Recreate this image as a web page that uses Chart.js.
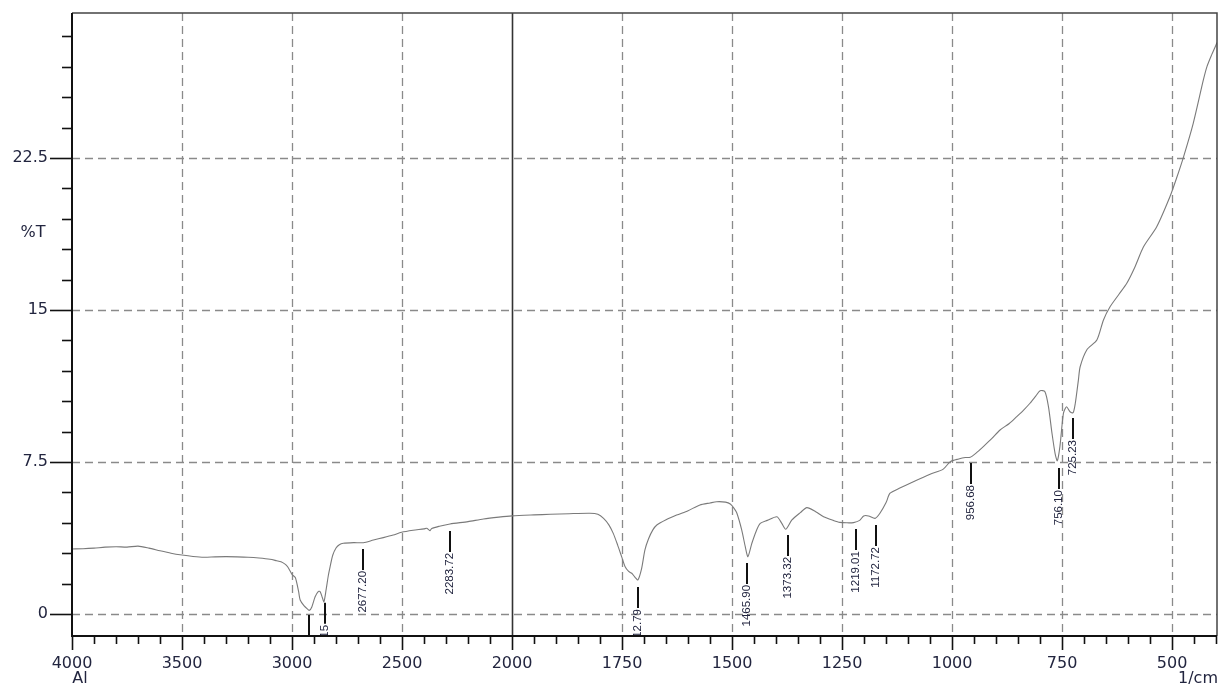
<!DOCTYPE html>
<html>
<head>
<meta charset="utf-8">
<script src="https://cdn.jsdelivr.net/npm/chart.js@4.4.1/dist/chart.umd.min.js"></script>
<style>
  body { margin: 0; background: #fff; }
  #wrap { position: relative; width: 1220px; height: 688px; }
</style>
</head>
<body>
<div id="wrap"><canvas id="ir-chart" width="1220" height="688"></canvas></div>
<script>
// --- Spectrum data (wavenumber in 1/cm, transmittance in %T) ---
const wavenumbers = [
  4000, 3950, 3900, 3850, 3800, 3750, 3700, 3650, 3600, 3550, 3500, 3450, 3400, 3350, 3300, 3250,
  3200, 3150, 3100, 3070, 3050, 3030, 3020, 3010, 3000, 2985, 2970, 2963, 2945, 2930, 2921, 2910,
  2895, 2880, 2872, 2862, 2855, 2845, 2835, 2827, 2815, 2800, 2785, 2767, 2720, 2676, 2630, 2585,
  2540, 2502, 2450, 2400, 2388, 2378, 2373, 2365, 2330, 2282, 2200, 2130, 2060, 2000, 1950, 1913,
  1870, 1823, 1805, 1792, 1780, 1770, 1760, 1751, 1743, 1735, 1728, 1720, 1714, 1706, 1698, 1690,
  1680, 1671, 1650, 1626, 1600, 1573, 1550, 1535, 1515, 1504, 1495, 1489, 1478, 1470, 1464, 1455,
  1445, 1436, 1420, 1398, 1387, 1378, 1364, 1345, 1330, 1310, 1292, 1270, 1255, 1240, 1224, 1210,
  1201, 1190, 1175, 1164, 1150, 1141, 1120, 1088, 1050, 1020, 1004, 985, 970, 959, 945, 929,
  910, 891, 870, 853, 838, 823, 810, 800, 789, 781, 773, 766, 761, 755, 747, 740,
  732, 725, 720, 713, 709, 694, 671, 656, 641, 620, 603, 585, 565, 535, 505, 490,
  474, 452, 429, 421, 410, 402, 398
];
const transmittance = [
  3.21, 3.22, 3.25, 3.30, 3.32, 3.30, 3.35, 3.25, 3.12, 3.00, 2.91, 2.84, 2.80, 2.82, 2.83, 2.82,
  2.80, 2.76, 2.70, 2.63, 2.58, 2.45, 2.33, 2.15, 1.95, 1.80, 1.10, 0.69, 0.40, 0.25, 0.18, 0.35,
  0.85, 1.12, 1.10, 0.80, 0.60, 1.20, 1.90, 2.33, 2.90, 3.26, 3.42, 3.49, 3.52, 3.52, 3.65, 3.77,
  3.90, 4.03, 4.13, 4.20, 4.23, 4.15, 4.11, 4.22, 4.33, 4.44, 4.56, 4.69, 4.78, 4.84, 4.89, 4.92,
  4.95, 4.97, 4.92, 4.72, 4.40, 3.98, 3.40, 2.83, 2.33, 2.10, 2.01, 1.80, 1.68, 2.20, 3.16, 3.70,
  4.15, 4.39, 4.65, 4.88, 5.10, 5.38, 5.48, 5.54, 5.52, 5.43, 5.20, 4.97, 4.14, 3.32, 2.83, 3.49,
  4.10, 4.47, 4.62, 4.80, 4.47, 4.18, 4.64, 5.00, 5.25, 5.05, 4.80, 4.62, 4.52, 4.50, 4.51, 4.62,
  4.84, 4.84, 4.72, 4.97, 5.50, 5.96, 6.20, 6.53, 6.90, 7.15, 7.52, 7.65, 7.72, 7.73, 7.95, 8.26,
  8.65, 9.08, 9.40, 9.74, 10.05, 10.40, 10.75, 11.02, 10.97, 10.23, 8.92, 7.93, 7.56, 8.26, 9.90, 10.23,
  9.98, 9.93, 10.40, 11.54, 12.20, 13.03, 13.52, 14.51, 15.16, 15.80, 16.32, 17.10, 18.12, 19.11, 20.59, 21.50,
  22.56, 24.21, 26.35, 27.00, 27.60, 27.99, 28.20
];

// --- Peak annotations ---
const peakWavenumbers = [2921.0, 2852.15, 2677.20, 2283.72, 1712.79, 1465.90, 1373.32, 1219.01, 1172.72, 956.68, 756.10, 725.23];
const peakLabels = ['2921.00', '2852.15', '2677.20', '2283.72', '1712.79', '1465.90', '1373.32', '1219.01', '1172.72', '956.68', '756.10', '725.23'];
const peakMarkerTop = [-0.05, 0.55, 3.21, 4.10, 1.33, 2.52, 3.90, 4.19, 4.39, 7.45, 7.20, 9.67];

// --- Axis ticks ---
const xTickLabels = [4000, 3500, 3000, 2500, 2000, 1750, 1500, 1250, 1000, 750, 500];
const yTickLabels = [0, 7.5, 15, 22.5];
const xRange = [398, 4000];
const yRange = [-1.085, 29.655];

// Above 2000 1/cm the axis is compressed by half (instrument style split scale)
const BREAK = 2000;
const toAxis = (wn) => wn > BREAK ? BREAK + (wn - BREAK) / 2 : wn;
const fromAxis = (p) => p > BREAK ? BREAK + (p - BREAK) * 2 : p;

const TEXT_COLOR = '#22253f';
const GRID_COLOR = '#8a8a8a';

const points = wavenumbers.map((wn, i) => ({ x: toAxis(wn), y: transmittance[i] }));

const isMajorX = (p) => xTickLabels.some(l => Math.abs(toAxis(l) - p) < 1e-6);
const isMajorY = (v) => yTickLabels.some(l => Math.abs(l - v) < 1e-6);

// --- Plugin: grid, frame, tick marks, peak labels ---
const spectrumDecor = {
  id: 'spectrumDecor',
  beforeDatasetsDraw(chart) {
    const { ctx, chartArea: a, scales: { x, y } } = chart;
    ctx.save();
    ctx.strokeStyle = GRID_COLOR;
    ctx.lineWidth = 1.3;
    ctx.setLineDash([8, 5]);
    xTickLabels.forEach(l => {
      if (l === BREAK || l === xRange[1]) return;
      const px = Math.round(x.getPixelForValue(toAxis(l))) + 0.5;
      ctx.beginPath(); ctx.moveTo(px, a.top); ctx.lineTo(px, a.bottom); ctx.stroke();
    });
    yTickLabels.forEach(l => {
      const py = Math.round(y.getPixelForValue(l)) + 0.5;
      ctx.beginPath(); ctx.moveTo(a.left, py); ctx.lineTo(a.right, py); ctx.stroke();
    });
    ctx.setLineDash([]);
    // solid line at the scale break
    const bx = Math.round(x.getPixelForValue(BREAK)) + 0.5;
    ctx.strokeStyle = '#333';
    ctx.lineWidth = 1.6;
    ctx.beginPath(); ctx.moveTo(bx, a.top); ctx.lineTo(bx, a.bottom); ctx.stroke();
    ctx.restore();
  },
  afterDatasetsDraw(chart) {
    const { ctx, chartArea: a, scales: { x, y } } = chart;
    // peak markers, clipped to the plot area
    ctx.save();
    ctx.beginPath(); ctx.rect(a.left, a.top, a.right - a.left, a.bottom - a.top); ctx.clip();
    ctx.font = '11.5px "Liberation Sans", Arial, sans-serif';
    ctx.fillStyle = TEXT_COLOR;
    ctx.strokeStyle = '#111';
    ctx.lineWidth = 2;
    peakWavenumbers.forEach((wn, i) => {
      const px = Math.round(x.getPixelForValue(toAxis(wn)));
      const top = y.getPixelForValue(peakMarkerTop[i]);
      const bottom = top + 21;
      ctx.beginPath(); ctx.moveTo(px, top); ctx.lineTo(px, bottom); ctx.stroke();
      ctx.save();
      ctx.translate(px, bottom + 1);
      ctx.rotate(-Math.PI / 2);
      ctx.textAlign = 'right';
      ctx.textBaseline = 'middle';
      ctx.fillText(peakLabels[i], 0, 0);
      ctx.restore();
    });
    ctx.restore();

    // frame
    ctx.save();
    ctx.strokeStyle = '#444';
    ctx.lineWidth = 1.5;
    ctx.beginPath();
    ctx.moveTo(a.left, a.top); ctx.lineTo(a.right, a.top); ctx.lineTo(a.right, a.bottom);
    ctx.stroke();
    ctx.strokeStyle = '#111';
    ctx.lineWidth = 2;
    ctx.beginPath();
    ctx.moveTo(a.left, a.top); ctx.lineTo(a.left, a.bottom); ctx.lineTo(a.right, a.bottom);
    ctx.stroke();

    // tick marks
    ctx.lineWidth = 1.6;
    x.ticks.forEach(t => {
      const px = Math.round(x.getPixelForValue(t.value)) + 0.5;
      const len = isMajorX(t.value) ? 14 : 8;
      ctx.beginPath(); ctx.moveTo(px, a.bottom); ctx.lineTo(px, a.bottom + len); ctx.stroke();
    });
    y.ticks.forEach(t => {
      const py = Math.round(y.getPixelForValue(t.value)) + 0.5;
      const len = isMajorY(t.value) ? 22 : 10;
      ctx.beginPath(); ctx.moveTo(a.left - len, py); ctx.lineTo(a.left, py); ctx.stroke();
    });

    // axis titles
    ctx.fillStyle = TEXT_COLOR;
    ctx.font = '16px "DejaVu Sans", sans-serif';
    ctx.textBaseline = 'middle';
    ctx.textAlign = 'center';
    ctx.fillText('%T', 33, 233);
    ctx.fillText('Al', a.left + 8, 679);
    ctx.textAlign = 'right';
    ctx.fillText('1/cm', 1218, 679);
    ctx.restore();
  }
};

const ctx = document.getElementById('ir-chart').getContext('2d');
const irChart = new Chart(ctx, {
  type: 'line',
  data: {
    datasets: [{
      data: points,
      borderColor: '#7a7a7a',
      borderWidth: 1.1,
      pointRadius: 0,
      tension: 0.25,
      fill: false
    }]
  },
  options: {
    responsive: false,
    animation: false,
    layout: { padding: { top: 13, right: 3, left: 0, bottom: 0 } },
    plugins: { legend: { display: false }, tooltip: { enabled: false } },
    scales: {
      x: {
        type: 'linear',
        reverse: true,
        min: toAxis(xRange[0]),
        max: toAxis(xRange[1]),
        grid: { display: false, drawTicks: false },
        border: { display: false },
        afterBuildTicks: (scale) => {
          const ticks = [];
          for (let p = 400; p <= toAxis(xRange[1]); p += 50) ticks.push({ value: p });
          scale.ticks = ticks;
        },
        afterFit: (scale) => {
          scale.height = 52;
          scale.paddingLeft = 0;
          scale.paddingRight = 0;
        },
        ticks: {
          autoSkip: false,
          maxRotation: 0,
          padding: 18,
          color: TEXT_COLOR,
          font: { family: '"DejaVu Sans", sans-serif', size: 16 },
          callback: (value) => isMajorX(value) ? String(fromAxis(value)) : ''
        }
      },
      y: {
        min: yRange[0],
        max: yRange[1],
        grid: { display: false, drawTicks: false },
        border: { display: false },
        afterBuildTicks: (scale) => {
          const ticks = [];
          for (let i = 0; i * 1.5 <= yRange[1]; i++) ticks.push({ value: i * 1.5 });
          scale.ticks = ticks;
        },
        afterFit: (scale) => {
          scale.width = 72;
          scale.paddingTop = 0;
          scale.paddingBottom = 0;
        },
        ticks: {
          autoSkip: false,
          padding: 24,
          color: TEXT_COLOR,
          font: { family: '"DejaVu Sans", sans-serif', size: 16 },
          callback: (value) => isMajorY(value) ? String(value) : ''
        }
      }
    }
  },
  plugins: [spectrumDecor]
});
</script>
</body>
</html>
